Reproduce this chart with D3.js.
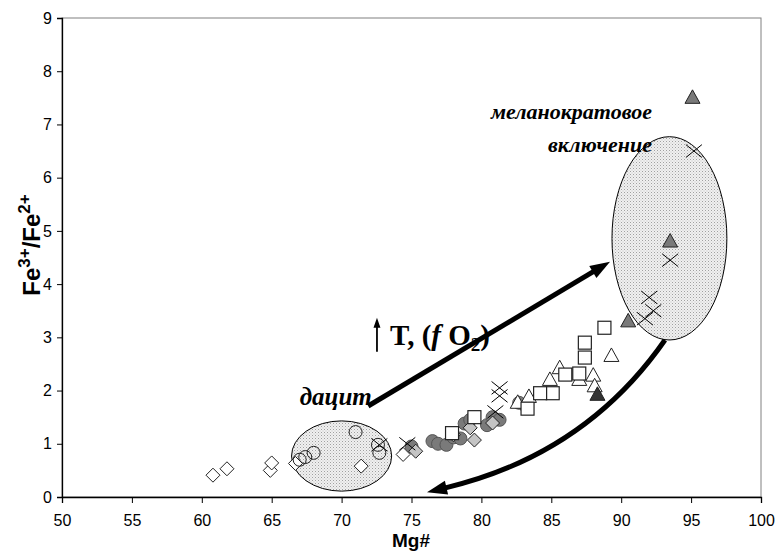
<!DOCTYPE html>
<html><head><meta charset="utf-8">
<script src="https://cdn.jsdelivr.net/npm/d3@7"></script>
<style>body{margin:0;background:#fff}svg{display:block}</style>
</head><body>
<script>
// ---- data ----
const xTicks = [50,55,60,65,70,75,80,85,90,95,100];
const yTicks = [0,1,2,3,4,5,6,7,8,9];
const openDiamonds = [[60.8,0.41],[61.8,0.53],[64.9,0.50],[65.0,0.64],[66.7,0.63],[71.4,0.58],[74.4,0.80]];
const openCircles = [[67.0,0.70],[67.4,0.75],[68.0,0.83],[71.0,1.22],[72.6,0.98],[72.7,0.83]];
const darkCircles = [[75.0,0.95],[76.5,1.05],[76.9,1.0],[77.5,0.98],[78.0,1.12],[78.5,1.10],[78.8,1.38],[79.2,1.45],[80.4,1.35],[80.8,1.5],[81.3,1.45],[82.7,1.77],[83.2,1.70]];
const greyDiamonds = [[75.3,0.86],[78.0,1.17],[79.2,1.30],[79.5,1.07],[80.8,1.39]];
const openTriangles = [[89.3,2.65],[88.0,2.28],[88.1,2.08],[87.0,2.2],[85.6,2.42],[84.9,2.2],[83.4,1.88],[82.6,1.77]];
const openSquares = [[88.8,3.18],[87.4,2.9],[87.4,2.62],[87.0,2.32],[86.0,2.3],[85.1,1.95],[84.2,1.95],[83.3,1.66],[79.5,1.5],[77.9,1.2]];
const darkTriangles = [[95.1,7.5],[93.5,4.8],[90.5,3.3]];
const blackTriangles = [[88.3,1.92]];
const crosses = [[72.7,0.98],[74.7,1.0],[81.3,2.05],[81.3,1.9],[81.0,1.6],[95.2,6.5],[93.5,4.45],[92.0,3.75],[92.3,3.5],[91.7,3.35]];
const ellipses = [{cx:70,cy:0.77,rx:3.58,ry:0.66},{cx:93.45,cy:4.86,rx:4.11,ry:1.91}];
const upArrow = {from:[71.9,1.71], to:[89.2,4.42]};
const downArrow = {from:[93.13,2.95], ctrl:[87.41,0.79], to:[76.11,0.09]};

// ---- layout ----
const W=779,H=551;
const svg=d3.select("body").append("svg").attr("width",W).attr("height",H);
const x=d3.scaleLinear().domain([50,100]).range([62,761]);
const y=d3.scaleLinear().domain([0,9]).range([497,18]);

const defs=svg.append("defs");
const pat=defs.append("pattern").attr("id","dots").attr("patternUnits","userSpaceOnUse").attr("width",3).attr("height",3);
pat.append("rect").attr("width",3).attr("height",3).attr("fill","#f0f0f0");
pat.append("rect").attr("x",0).attr("y",0).attr("width",1).attr("height",1).attr("fill","#a0a0a0");
pat.append("rect").attr("x",1.5).attr("y",1.5).attr("width",1).attr("height",1).attr("fill","#c0c0c0");

// frame
svg.append("rect").attr("x",62).attr("y",18).attr("width",699).attr("height",479).attr("fill","none").attr("stroke","#808080").attr("stroke-width",1);

// ellipses
svg.selectAll(".ell").data(ellipses).enter().append("ellipse")
 .attr("cx",d=>x(d.cx)).attr("cy",d=>y(d.cy))
 .attr("rx",d=>x(d.cx+d.rx)-x(d.cx)).attr("ry",d=>y(d.cy)-y(d.cy+d.ry))
 .attr("fill","url(#dots)").attr("stroke","#000").attr("stroke-width",1);

// axes
const xAxis=svg.append("g").attr("transform","translate(0,497)").call(d3.axisBottom(x).tickValues(xTicks).tickSize(6).tickPadding(12));
const yAxis=svg.append("g").attr("transform","translate(62,0)").call(d3.axisLeft(y).tickValues(yTicks).tickSize(5).tickPadding(5));
[xAxis,yAxis].forEach(g=>{
  g.selectAll("text").attr("font-family","Liberation Sans, Arial, sans-serif").attr("font-size",16).attr("fill","#000");
  g.select(".domain").attr("stroke","#000").attr("stroke-width",1.3);
  g.selectAll(".tick line").attr("stroke","#000");
});

// markers
const S="#222";
const g=svg.append("g");
function diamonds(data,fill){
  g.selectAll(null).data(data).enter().append("path")
   .attr("d",d=>{const cx=x(d[0]),cy=y(d[1]),r=7;return `M${cx},${cy-r}L${cx+r},${cy}L${cx},${cy+r}L${cx-r},${cy}Z`;})
   .attr("fill",fill).attr("stroke",S).attr("stroke-width",1);
}
function circles(data,fill,stroke){
  g.selectAll(null).data(data).enter().append("circle")
   .attr("cx",d=>x(d[0])).attr("cy",d=>y(d[1])).attr("r",6.5)
   .attr("fill",fill).attr("stroke",stroke).attr("stroke-width",1);
}
function squares(data){
  g.selectAll(null).data(data).enter().append("rect")
   .attr("x",d=>x(d[0])-6.5).attr("y",d=>y(d[1])-6.5).attr("width",13).attr("height",13)
   .attr("fill","#fff").attr("stroke",S).attr("stroke-width",1.2);
}
function triangles(data,fill){
  g.selectAll(null).data(data).enter().append("path")
   .attr("d",d=>{const cx=x(d[0]),cy=y(d[1]);return `M${cx},${cy-8}L${cx+7.5},${cy+5.5}L${cx-7.5},${cy+5.5}Z`;})
   .attr("fill",fill).attr("stroke",S).attr("stroke-width",1);
}
function xs(data){
  g.selectAll(null).data(data).enter().append("path")
   .attr("d",d=>{const cx=x(d[0]),cy=y(d[1]),r=8;return `M${cx-r},${cy-r*0.8}L${cx+r},${cy+r*0.8}M${cx-r},${cy+r*0.8}L${cx+r},${cy-r*0.8}`;})
   .attr("fill","none").attr("stroke","#000").attr("stroke-width",1);
}
diamonds(openDiamonds,"#fff");
circles(openCircles,"none","#222");
circles(darkCircles,"#7a7a7a","#555");
diamonds(greyDiamonds,"#c4c4c4");
triangles(openTriangles,"#fff");
squares(openSquares);
triangles(darkTriangles,"#7a7a7a");
triangles(blackTriangles,"#333");
xs(crosses);

// arrows
function arrowHead(tip,from,len,wid){
  const dx=tip[0]-from[0],dy=tip[1]-from[1],L=Math.hypot(dx,dy),ux=dx/L,uy=dy/L;
  const bx=tip[0]-ux*len,by=tip[1]-uy*len;
  svg.append("path").attr("d",`M${tip[0]},${tip[1]}L${bx-uy*wid},${by+ux*wid}L${bx+uy*wid},${by-ux*wid}Z`).attr("fill","#000");
  return [bx+ux*2,by+uy*2];
}
{
  const a=[x(upArrow.from[0]),y(upArrow.from[1])], b=[x(upArrow.to[0]),y(upArrow.to[1])];
  const base=arrowHead(b,a,20,7);
  svg.append("line").attr("x1",a[0]).attr("y1",a[1]).attr("x2",base[0]).attr("y2",base[1]).attr("stroke","#000").attr("stroke-width",5);
}
{
  const p0=[x(downArrow.from[0]),y(downArrow.from[1])], c=[x(downArrow.ctrl[0]),y(downArrow.ctrl[1])], p2=[x(downArrow.to[0]),y(downArrow.to[1])];
  const base=arrowHead(p2,c,20,7);
  svg.append("path").attr("d",`M${p0[0]},${p0[1]}Q${c[0]},${c[1]} ${base[0]},${base[1]}`).attr("fill","none").attr("stroke","#000").attr("stroke-width",5);
}

// labels
const serif="Liberation Serif, Times New Roman, serif";
svg.append("text").attr("x",x(67.0)).attr("y",y(1.73)).attr("font-family",serif).attr("font-weight","bold").attr("font-style","italic").attr("font-size",25).text("дацит");
svg.append("text").attr("x",x(92.2)).attr("y",y(7.1)).attr("text-anchor","end").attr("font-family",serif).attr("font-weight","bold").attr("font-style","italic").attr("font-size",22).text("меланократовое");
svg.append("text").attr("x",x(92.2)).attr("y",y(6.48)).attr("text-anchor","end").attr("font-family",serif).attr("font-weight","bold").attr("font-style","italic").attr("font-size",22).text("включение");

const tl=svg.append("text").attr("x",x(73.46)).attr("y",y(2.86)).attr("font-family",serif).attr("font-weight","bold").attr("font-size",29);
tl.append("tspan").text("T, (");
tl.append("tspan").attr("font-style","italic").text("f ");
tl.append("tspan").text("O");
tl.append("tspan").attr("font-size",19).attr("dy",6).text("2");
tl.append("tspan").attr("dy",-6).text(")");
// small up arrow
{
  const ax=x(73.46)-13, yb=y(2.86)+7, yt=y(2.86)-27;
  svg.append("line").attr("x1",ax).attr("y1",yb).attr("x2",ax).attr("y2",yt+8).attr("stroke","#000").attr("stroke-width",1.8);
  svg.append("path").attr("d",`M${ax},${yt}L${ax+3.5},${yt+10}L${ax-3.5},${yt+10}Z`).attr("fill","#000");
}

// axis titles
svg.append("text").attr("x",411).attr("y",547).attr("text-anchor","middle").attr("font-family","Liberation Sans, Arial, sans-serif").attr("font-weight","bold").attr("font-size",19).text("Mg#");
const yl=svg.append("text").attr("transform","translate(40,245) rotate(-90)").attr("text-anchor","middle").attr("font-family","Liberation Sans, Arial, sans-serif").attr("font-weight","bold").attr("font-size",24);
yl.append("tspan").text("Fe");
yl.append("tspan").attr("font-size",17).attr("dy",-10).text("3+");
yl.append("tspan").attr("dy",10).text("/Fe");
yl.append("tspan").attr("font-size",17).attr("dy",-10).text("2+");
</script>
</body></html>
